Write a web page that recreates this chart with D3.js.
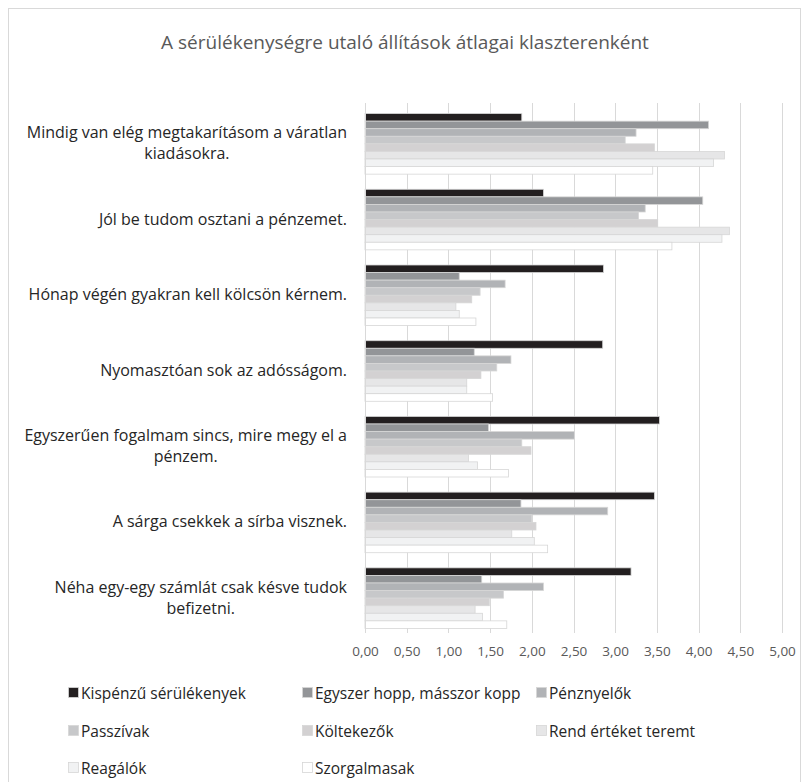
<!DOCTYPE html>
<html><head><meta charset="utf-8">
<script src="https://cdn.jsdelivr.net/npm/d3@7"></script>
<style>body{margin:0;background:#fff}svg{display:block}</style>
</head><body>
<svg id="c" width="810" height="782"></svg>
<script>
const title = "A sérülékenységre utaló állítások átlagai klaszterenként";
const categories = [
  "Mindig van elég megtakarításom a váratlan kiadásokra.",
  "Jól be tudom osztani a pénzemet.",
  "Hónap végén gyakran kell kölcsön kérnem.",
  "Nyomasztóan sok az adósságom.",
  "Egyszerűen fogalmam sincs, mire megy el a pénzem.",
  "A sárga csekkek a sírba visznek.",
  "Néha egy-egy számlát csak késve tudok befizetni."
];
const seriesNames = ["Kispénzű sérülékenyek","Egyszer hopp, másszor kopp","Pénznyelők","Passzívak","Költekezők","Rend értéket teremt","Reagálók","Szorgalmasak"];
const seriesColors = ["#231f20","#939598","#b1b3b6","#c7c8ca","#d3d1d2","#e6e6e7","#f1f2f3","#ffffff"];
const kispenzu   = [1.88,2.14,2.86,2.85,3.53,3.47,3.19];
const egyszer    = [4.12,4.05,1.13,1.31,1.48,1.87,1.40];
const penznyelok = [3.25,3.36,1.68,1.75,2.51,2.91,2.14];
const passzivak  = [3.12,3.28,1.38,1.58,1.88,2.00,1.66];
const koltekezok = [3.47,3.51,1.28,1.39,1.99,2.05,1.49];
const rend       = [4.31,4.37,1.09,1.22,1.24,1.76,1.32];
const reagalok   = [4.18,4.28,1.13,1.22,1.35,2.03,1.41];
const szorgalmas = [3.45,3.68,1.33,1.53,1.72,2.19,1.70];
const seriesValues = [kispenzu,egyszer,penznyelok,passzivak,koltekezok,rend,reagalok,szorgalmas];
const ticks = [0,0.5,1,1.5,2,2.5,3,3.5,4,4.5,5];

const svg = d3.select("#c");
const FONT = "'Open Sans', sans-serif";

svg.append("rect").attr("x",8.5).attr("y",8.5).attr("width",792).attr("height",790)
  .attr("fill","#fff").attr("stroke","#d9d9d9").attr("stroke-width",1);

svg.append("text").attr("x",405).attr("y",49).attr("text-anchor","middle")
  .attr("font-family",FONT).attr("font-size",19).attr("fill","#595959").text(title);

const x = d3.scaleLinear().domain([0,5]).range([365,782]);
const y = d3.scaleBand().domain(categories).range([106,636]).paddingInner(0.2).paddingOuter(0.1);
const ys = d3.scaleBand().domain(seriesNames).range([0,y.bandwidth()]);

// gridlines
const grid = svg.append("g");
grid.selectAll("line").data(ticks).join("line")
  .attr("x1",d=>Math.round(x(d))+0.5).attr("x2",d=>Math.round(x(d))+0.5)
  .attr("y1",103).attr("y2",633).attr("stroke","#d9d9d9").attr("stroke-width",1);

// x axis labels
const xAxis = d3.axisBottom(x).tickValues(ticks).tickSize(0).tickPadding(0)
  .tickFormat(d=>d3.format(".2f")(d).replace(".",","));
const gx = svg.append("g").attr("transform","translate(0,646)").call(xAxis);
gx.select(".domain").remove();
gx.selectAll("text").attr("font-family",FONT).attr("font-size",13.5).attr("fill","#595959");

// bars
const groups = svg.append("g").selectAll("g").data(seriesNames).join("g");
groups.each(function(s,si){
  d3.select(this).selectAll("rect").data(seriesValues[si]).join("rect")
    .attr("x",x(0)).attr("y",(d,i)=>y(categories[i])+ys(s))
    .attr("width",d=>x(d)-x(0)).attr("height",ys.bandwidth())
    .attr("fill",seriesColors[si]).attr("stroke","#d6d6d6").attr("stroke-width",0.8);
});

// category axis line
svg.append("line").attr("x1",365.5).attr("x2",365.5).attr("y1",103).attr("y2",633).attr("stroke","#d9d9d9");

// category labels (wrapped)
const LSIZE = 16;
const lab = svg.append("g");
function wrapLines(text, maxW, size){
  const tmp = lab.append("text").attr("font-family",FONT).attr("font-size",size);
  const words = text.split(" "); const lines=[]; let cur="";
  words.forEach(w=>{
    const t = cur ? cur+" "+w : w;
    tmp.text(t);
    if (tmp.node().getComputedTextLength() > maxW && cur){ lines.push(cur); cur=w; } else cur=t;
  });
  if (cur) lines.push(cur);
  tmp.remove(); return lines;
}
categories.forEach(c=>{
  const lines = wrapLines(c, 335, LSIZE);
  const cy = y(c)+y.bandwidth()/2;
  const lh = 21;
  const t = lab.append("text").attr("font-family",FONT).attr("font-size",LSIZE).attr("fill","#262626");
  lines.forEach((l,i)=>{
    const ty = cy + (i-(lines.length-1)/2)*lh + 5;
    t.append("tspan").attr("x",347).attr("y",ty).attr("text-anchor",i===0?"end":"middle").text(l);
  });
});
lab.selectAll("text").each(function(){
  const tsp = d3.select(this).selectAll("tspan");
  if (tsp.size()>1){
    const w = tsp.nodes()[0].getComputedTextLength();
    tsp.filter((d,i)=>i>0).attr("x",347 - w/2);
  }
});

// legend
const legCols = [68,302,536];
const legRows = [693,731,768];
const leg = svg.append("g").selectAll("g").data(seriesNames).join("g")
  .attr("transform",(d,i)=>`translate(${legCols[i%3]},${legRows[Math.floor(i/3)]})`);
leg.append("rect").attr("x",0.5).attr("y",-5.5).attr("width",10).attr("height",10)
  .attr("fill",(d,i)=>seriesColors[i]).attr("stroke","#d6d6d6").attr("stroke-width",0.8);
leg.append("text").attr("x",13).attr("y",5.5).attr("font-family",FONT).attr("font-size",15.5)
  .attr("fill","#262626").text(d=>d);
</script>
</body></html>
